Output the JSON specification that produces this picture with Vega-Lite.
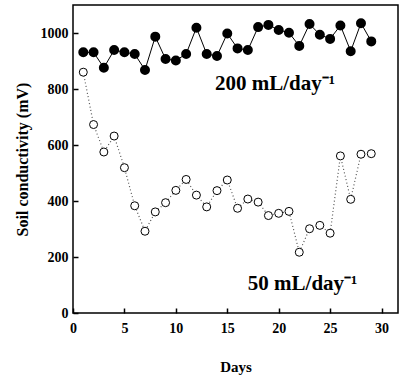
{
  "$schema": "https://vega.github.io/schema/vega-lite/v6.json",
  "autosize": "none",
  "width": 325,
  "height": 308,
  "padding": {"left": 73, "top": 5, "right": 2, "bottom": 68},
  "background": "white",
  "config": {
    "view": {"stroke": "black", "strokeWidth": 1.5},
    "font": "Liberation Serif"
  },
  "datasets": {
    "high": [
      {"day": 1, "mv": 931}, {"day": 2, "mv": 931}, {"day": 3, "mv": 876}, {"day": 4, "mv": 939},
      {"day": 5, "mv": 931}, {"day": 6, "mv": 925}, {"day": 7, "mv": 868}, {"day": 8, "mv": 987},
      {"day": 9, "mv": 907}, {"day": 10, "mv": 902}, {"day": 11, "mv": 925}, {"day": 12, "mv": 1019},
      {"day": 13, "mv": 925}, {"day": 14, "mv": 918}, {"day": 15, "mv": 998}, {"day": 16, "mv": 945},
      {"day": 17, "mv": 939}, {"day": 18, "mv": 1021}, {"day": 19, "mv": 1029}, {"day": 20, "mv": 1011},
      {"day": 21, "mv": 1001}, {"day": 22, "mv": 954}, {"day": 23, "mv": 1032}, {"day": 24, "mv": 994},
      {"day": 25, "mv": 979}, {"day": 26, "mv": 1027}, {"day": 27, "mv": 935}, {"day": 28, "mv": 1035},
      {"day": 29, "mv": 970}
    ],
    "low": [
      {"day": 1, "mv": 860}, {"day": 2, "mv": 673}, {"day": 3, "mv": 575}, {"day": 4, "mv": 632},
      {"day": 5, "mv": 519}, {"day": 6, "mv": 383}, {"day": 7, "mv": 292}, {"day": 8, "mv": 361},
      {"day": 9, "mv": 394}, {"day": 10, "mv": 438}, {"day": 11, "mv": 477}, {"day": 12, "mv": 421},
      {"day": 13, "mv": 379}, {"day": 14, "mv": 437}, {"day": 15, "mv": 475}, {"day": 16, "mv": 374},
      {"day": 17, "mv": 407}, {"day": 18, "mv": 396}, {"day": 19, "mv": 348}, {"day": 20, "mv": 356},
      {"day": 21, "mv": 363}, {"day": 22, "mv": 217}, {"day": 23, "mv": 301}, {"day": 24, "mv": 313},
      {"day": 25, "mv": 285}, {"day": 26, "mv": 561}, {"day": 27, "mv": 406}, {"day": 28, "mv": 567},
      {"day": 29, "mv": 569}
    ],
    "labels": [
      {"day": 13.8, "mv": 796, "label": "200 mL/day⁻¹"},
      {"day": 17.0, "mv": 82, "label": "50 mL/day⁻¹"}
    ]
  },
  "encoding": {
    "x": {
      "field": "day", "type": "quantitative",
      "scale": {"domain": [0, 31.6], "nice": false, "zero": false},
      "axis": {
        "title": "Days", "values": [0, 5, 10, 15, 20, 25, 30], "grid": false,
        "domain": false, "ticks": true, "tickColor": "black", "tickWidth": 1.5, "tickSize": -5, "tickOffset": 0, "labelPadding": 13,
        "labelFont": "Liberation Serif", "labelFontWeight": "bold", "labelFontSize": 14, "labelColor": "black",
        "titleFont": "Liberation Serif", "titleFontWeight": "bold", "titleFontSize": 15, "titleColor": "black",
        "titlePadding": 24, "labelFlush": false
      }
    },
    "y": {
      "field": "mv", "type": "quantitative",
      "scale": {"domain": [0, 1100], "nice": false},
      "axis": {
        "title": "Soil conductivity (mV)", "values": [0, 200, 400, 600, 800, 1000], "format": "d", "grid": false,
        "domain": false, "ticks": true, "tickColor": "black", "tickWidth": 1.5, "tickSize": -5, "labelPadding": 10,
        "labelFont": "Liberation Serif", "labelFontWeight": "bold", "labelFontSize": 14, "labelColor": "black",
        "titleFont": "Liberation Serif", "titleFontWeight": "bold", "titleFontSize": 16, "titleColor": "black",
        "titlePadding": 10
      }
    }
  },
  "layer": [
    {"data": {"name": "low"}, "mark": {"type": "line", "color": "#555", "strokeWidth": 1.2, "strokeDash": [1, 2.5]}},
    {"data": {"name": "low"}, "mark": {"type": "point", "shape": "circle", "filled": true, "fill": "white", "stroke": "black", "strokeWidth": 1, "size": 64, "opacity": 1}},
    {"data": {"name": "high"}, "mark": {"type": "line", "color": "black", "strokeWidth": 1}},
    {"data": {"name": "high"}, "mark": {"type": "point", "shape": "circle", "filled": true, "fill": "black", "stroke": "black", "size": 64, "opacity": 1}},
    {"data": {"name": "labels"}, "mark": {"type": "text", "align": "left", "baseline": "alphabetic", "font": "Liberation Serif", "fontWeight": "bold", "fontSize": 21, "color": "black"}, "encoding": {"text": {"field": "label"}}}
  ]
}
